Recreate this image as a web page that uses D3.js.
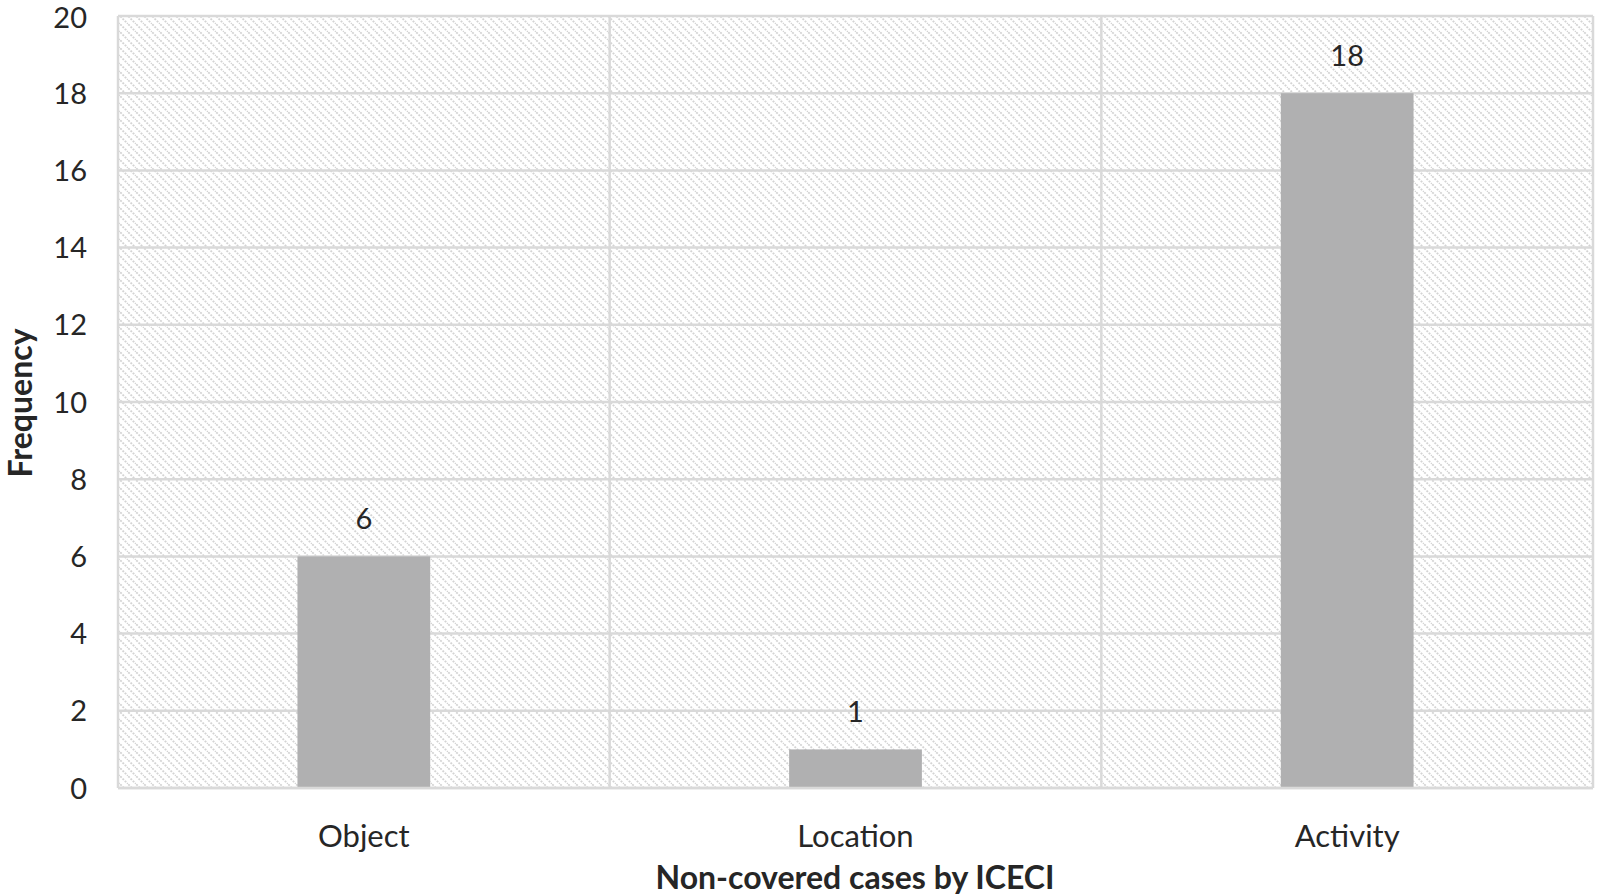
<!DOCTYPE html>
<html><head><meta charset="utf-8">
<script src="https://cdn.jsdelivr.net/npm/d3@7"></script>
<style>body{margin:0;background:#fff;}svg{display:block;}</style>
</head><body>
<svg id="c" width="1600" height="896"></svg>
<script>
const categories = ["Object", "Location", "Activity"];
const values = [6, 1, 18];
const yTicks = [0, 2, 4, 6, 8, 10, 12, 14, 16, 18, 20];
const xTitle = "Non-covered cases by ICECI";
const yTitle = "Frequency";

const svg = d3.select("#c");
const m = {left: 118, right: 1593, top: 16, bottom: 788};
const font = "Lato, 'Open Sans', sans-serif";
const textColor = "#262626";
const gridColor = "#d9d9d9";

const x = d3.scaleBand().domain(categories).range([m.left, m.right]).paddingInner(0).paddingOuter(0);
const y = d3.scaleLinear().domain([0, 20]).range([m.bottom, m.top]);

const defs = svg.append("defs");
const P = 8;
const pat = defs.append("pattern").attr("id", "hatch").attr("patternUnits", "userSpaceOnUse")
  .attr("width", P).attr("height", P);
pat.append("rect").attr("width", P).attr("height", P).attr("fill", "#fff");
pat.append("path").attr("d", `M-2,-2 L${P+2},${P+2} M-2,${P-2} L2,${P+2} M${P-2},-2 L${P+2},2`)
  .attr("stroke", "#d4d4d4").attr("stroke-width", 1.8).attr("stroke-dasharray", "2,1.2");

svg.append("rect").attr("x", m.left).attr("y", m.top).attr("width", m.right - m.left).attr("height", m.bottom - m.top)
  .attr("fill", "url(#hatch)");

// horizontal gridlines
svg.append("g").selectAll("line").data(yTicks).join("line")
  .attr("x1", m.left).attr("x2", m.right).attr("y1", d => y(d)).attr("y2", d => y(d))
  .attr("stroke", gridColor).attr("stroke-width", 2.5);
// vertical gridlines at band boundaries
const bounds = categories.map(c => x(c)).concat([m.right]);
svg.append("g").selectAll("line").data(bounds).join("line")
  .attr("x1", d => d).attr("x2", d => d).attr("y1", m.top).attr("y2", m.bottom)
  .attr("stroke", gridColor).attr("stroke-width", 2.5);

// bars
const bw = x.bandwidth() * 0.27;
svg.append("g").selectAll("rect").data(values).join("rect")
  .attr("x", (d, i) => x(categories[i]) + x.bandwidth() / 2 - bw / 2)
  .attr("width", bw)
  .attr("y", d => y(d)).attr("height", d => y(0) - y(d))
  .attr("fill", "#b0b0b1");

// bottom axis line
svg.append("line").attr("x1", m.left).attr("x2", m.right).attr("y1", m.bottom).attr("y2", m.bottom)
  .attr("stroke", gridColor).attr("stroke-width", 2.5);

// value labels
svg.append("g").selectAll("text").data(values).join("text")
  .attr("x", (d, i) => x(categories[i]) + x.bandwidth() / 2)
  .attr("y", d => y(d) - 27)
  .attr("text-anchor", "middle").attr("font-family", font).attr("font-size", 29).attr("fill", textColor)
  .text(d => d);

// y axis
const ya = d3.axisLeft(y).tickValues(yTicks).tickSize(0).tickPadding(0);
const yg = svg.append("g").attr("transform", `translate(${m.left - 31},0)`).call(ya);
yg.select(".domain").remove();
yg.selectAll("text").attr("font-family", font).attr("font-size", 29).attr("fill", textColor).attr("dy", "0.35em");
yg.selectAll(".tick").filter(d => d === 20).attr("transform", `translate(0,${y(20) + 2})`);

// x axis
const xa = d3.axisBottom(x).tickSize(0).tickPadding(0);
const xg = svg.append("g").attr("transform", `translate(0,${m.bottom + 48})`).call(xa);
xg.select(".domain").remove();
xg.selectAll("text").attr("font-family", font).attr("font-size", 31).attr("fill", textColor).attr("dy", "0.35em");

// titles
svg.append("text").attr("x", 855).attr("y", 889).attr("text-anchor", "middle")
  .attr("font-family", font).attr("font-weight", "bold").attr("font-size", 32).attr("fill", textColor).text(xTitle);
svg.append("text").attr("transform", "translate(32,403) rotate(-90)").attr("text-anchor", "middle")
  .attr("font-family", font).attr("font-weight", "bold").attr("font-size", 32).attr("fill", textColor).text(yTitle);
</script>
</body></html>
